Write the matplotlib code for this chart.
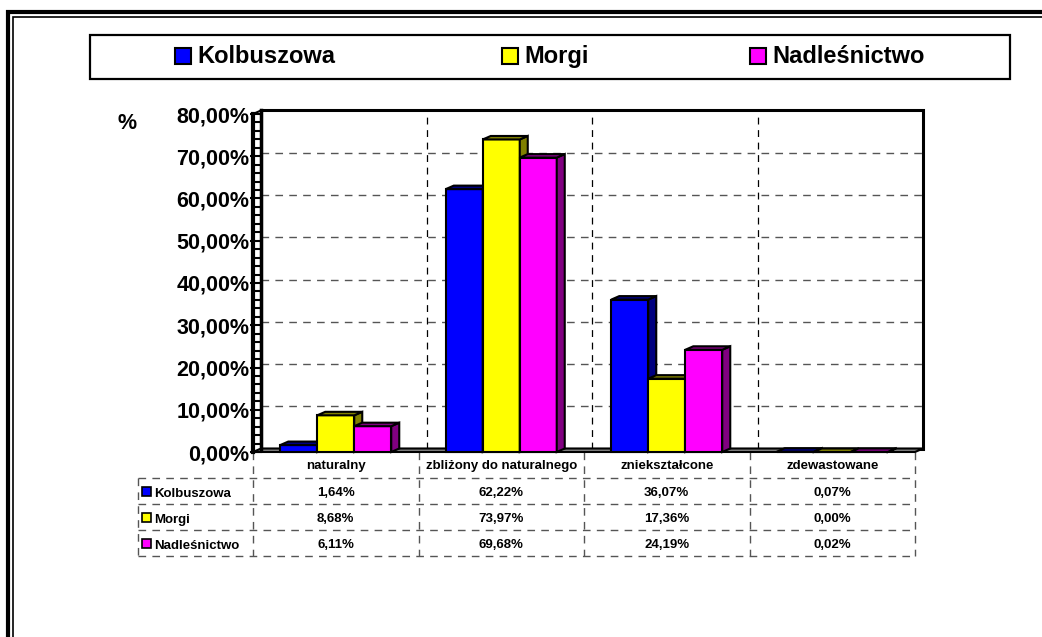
import matplotlib.pyplot as plt
import numpy as np
from matplotlib.patches import Polygon, Rectangle
from matplotlib.ticker import FuncFormatter

plt.rcParams['font.family'] = ['Liberation Sans', 'DejaVu Sans']
plt.rcParams['font.weight'] = 'bold'

categories = ['naturalny', 'zbliżony do naturalnego', 'zniekształcone', 'zdewastowane']
series = ['Kolbuszowa', 'Morgi', 'Nadleśnictwo']
kolbuszowa = [1.64, 62.22, 36.07, 0.07]
morgi = [8.68, 73.97, 17.36, 0.00]
nadlesnictwo = [6.11, 69.68, 24.19, 0.02]
y_ticks = [0, 10, 20, 30, 40, 50, 60, 70, 80]

values = [kolbuszowa, morgi, nadlesnictwo]
face_colors = ['#0000ff', '#ffff00', '#ff00ff']
side_colors = ['#000080', '#808000', '#800080']


def pct(v):
    return f'{v:.2f}%'.replace('.', ',')


W, H = 1042, 637
fig = plt.figure(figsize=(W / 100, H / 100), dpi=100)

# overlay in pixel coords: frame, legend, data table
ov = fig.add_axes([0, 0, 1, 1], zorder=0)
ov.set_xlim(0, W)
ov.set_ylim(H, 0)
ov.axis('off')

# main axes = front plane of the 3d box
x0, x1, ybot, ytop = 253, 915, 452, 114
ncat = len(categories)
ax = fig.add_axes([x0 / W, 1 - ybot / H, (x1 - x0) / W, (ybot - ytop) / H], zorder=1)
ax.set_xlim(-0.5, ncat - 0.5)
ax.set_ylim(y_ticks[0], y_ticks[-1])
ax.patch.set_visible(False)

px_x = (x1 - x0) / ncat
px_y = (ybot - ytop) / y_ticks[-1]
dx = 8 / px_x
dy = 3.5 / px_y
xl, xr, ymax = -0.5, ncat - 0.5, y_ticks[-1]

# back wall
ax.add_patch(Polygon([(xl + dx, dy), (xr + dx, dy), (xr + dx, ymax + dy), (xl + dx, ymax + dy)],
                     closed=True, facecolor='white', edgecolor='black', lw=2.2, zorder=1, clip_on=False))
for v in y_ticks[1:-1]:
    ax.plot([xl + dx, xr + dx], [v + dy, v + dy], color='#555555', lw=1.0,
            dashes=(5.5, 4.5), zorder=2, clip_on=False)
for b in np.arange(0.5, ncat - 1, 1):
    ax.plot([b + dx, b + dx], [dy, ymax + dy], color='black', lw=0.9,
            dashes=(5.5, 4.5), zorder=2, clip_on=False)

# floor
ax.add_patch(Polygon([(xl, 0), (xr, 0), (xr + dx, dy), (xl + dx, dy)], closed=True,
                     facecolor='#808080', edgecolor='black', lw=1.5, zorder=3, clip_on=False))

# left wall ladder
for v in np.arange(0, ymax + 0.1, 2):
    ax.plot([xl, xl + dx], [v, v], color='black', lw=1.5, zorder=3, clip_on=False)
ax.plot([xl, xl + dx], [ymax, ymax + dy], color='black', lw=1.5, zorder=3, clip_on=False)
ax.plot([xl + dx, xl + dx], [dy, ymax + dy], color='black', lw=2.5, zorder=4, clip_on=False)

# bars
bw = 37 / px_x
z = 5
for j in range(ncat):
    for i, vals in enumerate(values):
        v = vals[j]
        left = j + (i - 1.5) * bw
        right = left + bw
        ax.add_patch(Rectangle((left, 0), bw, v, facecolor=face_colors[i], edgecolor='black',
                               lw=1.5, zorder=z, clip_on=False))
        ax.add_patch(Polygon([(right, 0), (right + dx, dy), (right + dx, v + dy), (right, v)],
                             closed=True, facecolor=side_colors[i], edgecolor='black',
                             lw=1.5, zorder=z, clip_on=False))
        ax.add_patch(Polygon([(left, v), (right, v), (right + dx, v + dy), (left + dx, v + dy)],
                             closed=True, facecolor=side_colors[i], edgecolor='black',
                             lw=1.5, zorder=z, clip_on=False))
        z += 1

for s in ['top', 'right', 'bottom']:
    ax.spines[s].set_visible(False)
ax.spines['left'].set_linewidth(3)
ax.spines['left'].set_zorder(50)
ax.set_xticks([])
ax.set_yticks(y_ticks)
ax.yaxis.set_major_formatter(FuncFormatter(lambda v, _: pct(v)))
ax.tick_params(axis='y', direction='out', length=2.5, width=1.5, labelsize=15.5, pad=0)

ov.text(127, 129, '%', fontsize=15.5, ha='center', va='baseline')

# outer frame
ov.plot([8, 8, W + 20], [H + 20, 12, 12], color='black', lw=3, solid_joinstyle='miter')
ov.plot([12.5, 12.5, W + 20], [H + 20, 16.5, 16.5], color='black', lw=1.2, solid_joinstyle='miter')

# legend
ov.add_patch(Rectangle((90, 35), 920, 44, facecolor='white', edgecolor='black', lw=1.6))
for name, col, lx in zip(series, face_colors, [175, 502, 750]):
    ov.add_patch(Rectangle((lx, 48), 16, 16, facecolor=col, edgecolor='black', lw=1.5))
    ov.text(lx + 22, 63, name, fontsize=17, ha='left', va='baseline')

# data table
dash = dict(color='#555555', lw=1.0, dashes=(5.5, 4.5))
tleft = 138
rows = [452, 478, 504, 530, 556]
cols = [x0 + k * px_x for k in range(ncat + 1)]
for yy in rows[1:]:
    ov.plot([tleft, cols[-1]], [yy, yy], **dash)
for xx in cols:
    ov.plot([xx, xx], [rows[0], rows[-1]], **dash)
ov.plot([tleft, tleft], [rows[1], rows[-1]], **dash)

for j, cat in enumerate(categories):
    cx = x0 + (j + 0.5) * px_x
    ov.text(cx, rows[0] + 17, cat, fontsize=9.5, ha='center', va='baseline')
    for i, vals in enumerate(values):
        ov.text(cx, rows[i + 1] + 18, pct(vals[j]), fontsize=9.5,
                ha='center', va='baseline')
for i, name in enumerate(series):
    cy = (rows[i + 1] + rows[i + 2]) / 2
    ov.add_patch(Rectangle((142, cy - 4), 9, 9, facecolor=face_colors[i], edgecolor='black', lw=1.2))
    ov.text(154, rows[i + 1] + 19, name, fontsize=9.5, ha='left', va='baseline')

fig.savefig('out.png', dpi=100)
